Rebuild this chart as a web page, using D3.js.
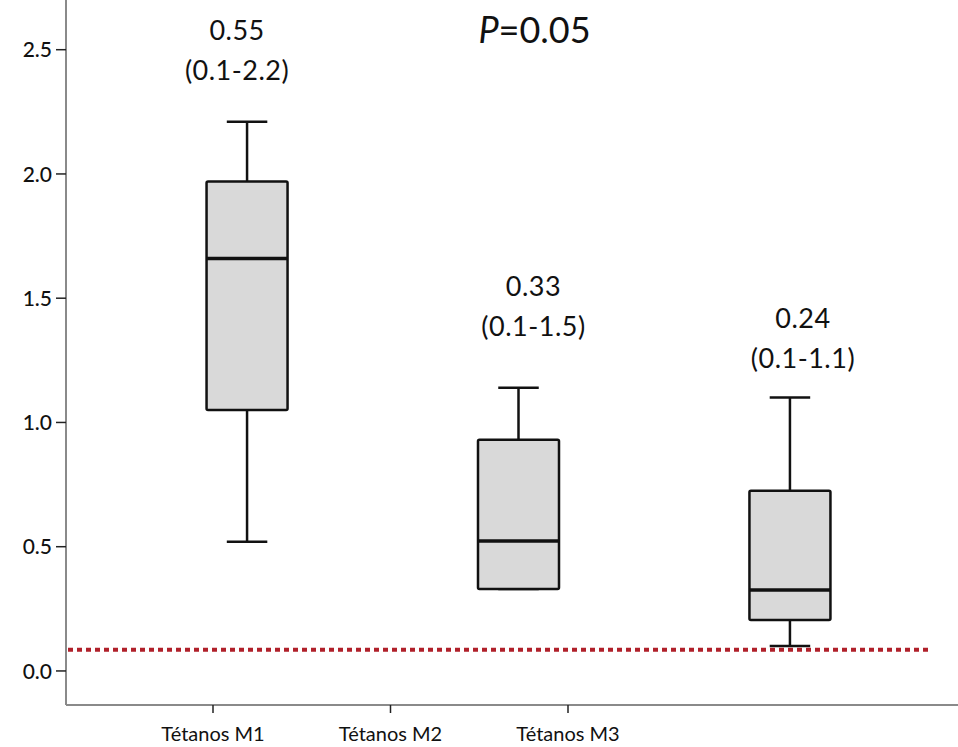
<!DOCTYPE html>
<html>
<head>
<meta charset="utf-8">
<script src="https://cdn.jsdelivr.net/npm/d3@7"></script>
<style>
    body { margin: 0; background: #fff; }
    svg { display: block; font-family: Lato, "Open Sans", sans-serif; }
</style>
</head>
<body>
<script>
// data
const categories = ['Tétanos M1', 'Tétanos M2', 'Tétanos M3'];
const whiskerLow = [0.52, 0.33, 0.10];
const quartile1 = [1.05, 0.33, 0.205];
const medians = [1.66, 0.523, 0.326];
const quartile3 = [1.97, 0.93, 0.725];
const whiskerHigh = [2.21, 1.14, 1.10];
const medianLabels = ['0.55', '0.33', '0.24'];
const rangeLabels = ['(0.1-2.2)', '(0.1-1.5)', '(0.1-1.1)'];
const labelValues = [2.54, 1.51, 1.38]; // where the annotations sit (data units)
const threshold = 0.085;
const yTicks = [0, 0.5, 1.0, 1.5, 2.0, 2.5];
const pValue = '0.05';

const width = 958;
const height = 747;
const axisX = 66;
const axisY = 705;

const svg = d3.select('body')
    .append('svg')
    .attr('width', width)
    .attr('height', height);

const y = d3.scaleLinear()
    .domain([-0.137, 2.7])
    .range([axisY, 0]);

// boxes and x-axis labels sit on different spacings in the original
const xBox = d3.scalePoint()
    .domain(categories)
    .range([axisX, 971])
    .padding(0.667);
const boxWidth = 81;

const xLab = d3.scalePoint()
    .domain(categories)
    .range([213, 568]);

const boxes = categories.map((c, i) => ({
    c,
    lo: whiskerLow[i],
    q1: quartile1[i],
    med: medians[i],
    q3: quartile3[i],
    hi: whiskerHigh[i],
    ml: medianLabels[i],
    rl: rangeLabels[i],
    lv: labelValues[i],
}));

// axes lines
svg.append('line')
    .attr('x1', axisX).attr('x2', axisX)
    .attr('y1', 0).attr('y2', axisY)
    .attr('stroke', '#8a8a8a').attr('stroke-width', 2);
svg.append('line')
    .attr('x1', axisX).attr('x2', width)
    .attr('y1', axisY).attr('y2', axisY)
    .attr('stroke', '#8a8a8a').attr('stroke-width', 2);

// y ticks
const yt = svg.append('g').selectAll('g').data(yTicks).enter().append('g')
    .attr('transform', (d) => `translate(0, ${ y(d) })`);
yt.append('line')
    .attr('x1', axisX - 10).attr('x2', axisX)
    .attr('stroke', '#222').attr('stroke-width', 1.5);
yt.append('text')
    .attr('x', axisX - 14)
    .attr('dy', '0.36em')
    .attr('text-anchor', 'end')
    .style('font-size', '21px')
    .style('font-weight', 500)
    .attr('fill', '#111')
    .text((d) => d.toFixed(1));

// x ticks
const xt = svg.append('g').selectAll('g').data(categories).enter().append('g')
    .attr('transform', (d) => `translate(${ xLab(d) }, ${ axisY })`);
xt.append('line')
    .attr('y1', 0).attr('y2', 8)
    .attr('stroke', '#222').attr('stroke-width', 1.5);
xt.append('text')
    .attr('y', 36)
    .attr('text-anchor', 'middle')
    .style('font-size', '20px')
    .attr('fill', '#111')
    .text((d) => d);

// boxplots
const g = svg.append('g').selectAll('g').data(boxes).enter().append('g')
    .attr('transform', (d) => `translate(${ xBox(d.c) }, 0)`);

g.append('line')
    .attr('y1', (d) => y(d.hi)).attr('y2', (d) => y(d.q3))
    .attr('stroke', '#111').attr('stroke-width', 2.5);
g.append('line')
    .attr('y1', (d) => y(d.q1)).attr('y2', (d) => y(d.lo))
    .attr('stroke', '#111').attr('stroke-width', 2.5);
g.append('line')
    .attr('x1', -boxWidth / 4).attr('x2', boxWidth / 4)
    .attr('y1', (d) => y(d.hi)).attr('y2', (d) => y(d.hi))
    .attr('stroke', '#111').attr('stroke-width', 2.5);
g.append('line')
    .attr('x1', -boxWidth / 4).attr('x2', boxWidth / 4)
    .attr('y1', (d) => y(d.lo)).attr('y2', (d) => y(d.lo))
    .attr('stroke', '#111').attr('stroke-width', 2.5);
g.append('rect')
    .attr('x', -boxWidth / 2)
    .attr('width', boxWidth)
    .attr('y', (d) => y(d.q3))
    .attr('height', (d) => y(d.q1) - y(d.q3))
    .attr('rx', 1.5)
    .attr('fill', '#d9d9d9')
    .attr('stroke', '#111').attr('stroke-width', 2.5);
g.append('line')
    .attr('x1', -boxWidth / 2).attr('x2', boxWidth / 2)
    .attr('y1', (d) => y(d.med)).attr('y2', (d) => y(d.med))
    .attr('stroke', '#111').attr('stroke-width', 3.5);

// annotations above each box
g.append('text')
    .attr('x', (d, i) => [-10, 15, 13][i])
    .attr('y', (d) => y(d.lv))
    .attr('text-anchor', 'middle')
    .style('font-size', '27px')
    .style('letter-spacing', '0.5px')
    .attr('fill', '#111')
    .text((d) => d.ml);
g.append('text')
    .attr('x', (d, i) => [-10, 15, 13][i])
    .attr('y', (d) => y(d.lv) + 40)
    .attr('text-anchor', 'middle')
    .style('font-size', '27px')
    .style('letter-spacing', '0.5px')
    .attr('fill', '#111')
    .text((d) => d.rl);

// threshold
svg.append('line')
    .attr('x1', axisX + 2).attr('x2', 930)
    .attr('y1', y(threshold)).attr('y2', y(threshold))
    .attr('stroke', '#b0202a')
    .attr('stroke-width', 4)
    .attr('stroke-dasharray', '5,4');

// p value
const pt = svg.append('text')
    .attr('x', xBox(categories[1]) + 16)
    .attr('y', 43)
    .attr('text-anchor', 'middle')
    .style('font-size', '36px')
    .attr('fill', '#111');
pt.append('tspan').style('font-style', 'italic').text('P');
pt.append('tspan').text('=' + pValue);
</script>
</body>
</html>
